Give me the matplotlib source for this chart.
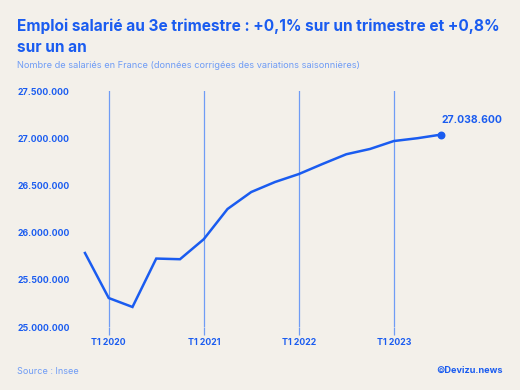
"""
Emploi salarié en France, par trimestre.
"""

import matplotlib.pyplot as plt
from matplotlib.ticker import FuncFormatter

# quarters from T4 2019 to T3 2023
quarters = ["T4 2019", "T1 2020", "T2 2020", "T3 2020", "T4 2020",
            "T1 2021", "T2 2021", "T3 2021", "T4 2021",
            "T1 2022", "T2 2022", "T3 2022", "T4 2022",
            "T1 2023", "T2 2023", "T3 2023"]
employees = [25784000, 25307000, 25212000, 25725000, 25718000,
             25930000, 26250000, 26430000, 26536000,
             26620000, 26727000, 26830000, 26886000,
             26970000, 27000000, 27038600]
x_ticks = ["T1 2020", "T1 2021", "T1 2022", "T1 2023"]
y_ticks = [25000000, 25500000, 26000000, 26500000, 27000000, 27500000]

BG = "#f3f0ea"
BLUE = "#1a5cf0"
LIGHT = "#6f9cf5"

plt.rcParams["font.family"] = ["Inter", "DejaVu Sans"]

fig = plt.figure(figsize=(5.2, 3.9), dpi=100, facecolor=BG)
ax = fig.add_axes([70 / 520, 1 - 327 / 390, 430 / 520, 236 / 390])
ax.set_facecolor(BG)

x = list(range(len(quarters)))
ax.plot(x, employees, color=BLUE, lw=1.8, solid_joinstyle="miter")
ax.scatter(x[-1], employees[-1], color=BLUE, s=22, zorder=3)
label = f"{employees[-1]:,}".replace(",", ".")
ax.annotate(label, (x[-1], employees[-1]), xytext=(0, 7),
            textcoords="offset points", ha="left", va="bottom",
            color=BLUE, fontsize=7.5, fontweight="bold")

tick_pos = [quarters.index(t) for t in x_ticks]
for p in tick_pos:
    ax.axvline(p, color=LIGHT, lw=0.9, zorder=0)
ax.set_xticks(tick_pos)
ax.set_xticklabels(x_ticks)
ax.tick_params(axis="x", length=5.5, width=0.9, color=LIGHT, pad=2.5,
               labelcolor=BLUE, labelsize=6.3)
for t in ax.get_xticklabels():
    t.set_fontweight("bold")

ax.set_yticks(y_ticks)
ax.yaxis.set_major_formatter(FuncFormatter(lambda v, _: f"{int(v):,}".replace(",", ".")))
ax.tick_params(axis="y", length=0, pad=38, labelcolor=BLUE, labelsize=6.3)
for t in ax.get_yticklabels():
    t.set_fontweight("bold")
    t.set_horizontalalignment("left")

ax.set_xlim(-0.63, 17.47)
ax.set_ylim(25000000, 27500000)
for s in ax.spines.values():
    s.set_visible(False)

fig.text(17 / 520, 1 - 26 / 390, "Emploi salarié au 3e trimestre : +0,1% sur un trimestre et +0,8%",
         color=BLUE, fontsize=11.1, fontweight="bold", va="center")
fig.text(17 / 520, 1 - 47 / 390, "sur un an",
         color=BLUE, fontsize=11.1, fontweight="bold", va="center")
fig.text(17 / 520, 1 - 66 / 390,
         "Nombre de salariés en France (données corrigées des variations saisonnières)",
         color=LIGHT, fontsize=6.65, va="center")
fig.text(17 / 520, 1 - 371 / 390, "Source : Insee", color=LIGHT, fontsize=6.5, va="center")
fig.text(503 / 520, 1 - 370 / 390, "©Devizu.news", color=BLUE, fontsize=6.6,
         fontweight="bold", va="center", ha="right")

fig.savefig("out.png", dpi=100, facecolor=BG)
